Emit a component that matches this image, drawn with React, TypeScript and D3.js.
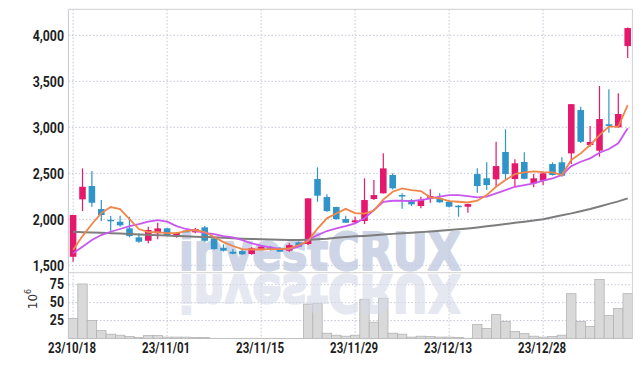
import React from 'react';
import * as d3 from 'd3';

// trading days, 2023/10/18 .. 2024/01/12
const dates = [
  '23/10/18','23/10/19','23/10/20','23/10/23','23/10/24','23/10/25','23/10/26','23/10/27','23/10/30','23/10/31',
  '23/11/01','23/11/02','23/11/03','23/11/06','23/11/07','23/11/08','23/11/09','23/11/10','23/11/13','23/11/14',
  '23/11/15','23/11/16','23/11/17','23/11/20','23/11/21','23/11/22','23/11/23','23/11/24','23/11/27','23/11/28',
  '23/11/29','23/11/30','23/12/01','23/12/04','23/12/05','23/12/06','23/12/07','23/12/08','23/12/11','23/12/12',
  '23/12/13','23/12/14','23/12/15','23/12/18','23/12/19','23/12/20','23/12/21','23/12/22','23/12/26','23/12/27',
  '23/12/28','24/01/02','24/01/03','24/01/04','24/01/05','24/01/08','24/01/09','24/01/10','24/01/11','24/01/12',
];
const tickLabels = ['23/10/18', '23/11/01', '23/11/15', '23/11/29', '23/12/13', '23/12/28'];

const open = [1593,2217,2362,2112,1995,1974,1902,1804,1767,1848,1902,1811,1875,1859,1913,1793,1691,1648,1655,1623,
  1680,1696,1691,1659,1750,1732,2438,2242,2134,2003,1967,1982,2221,2283,2482,2264,2210,2145,2235,2228,
  2191,2148,2137,2492,2446,2435,2732,2438,2623,2391,2420,2601,2620,2717,3188,2808,2746,3033,3000,3883];
const high = [2050,2554,2525,2210,2036,2039,2028,1848,1920,1963,1905,1860,1880,1905,1927,1800,1728,1677,1665,1700,
  1720,1710,1700,1739,1760,2230,2565,2272,2137,2039,2028,2446,2427,2717,2500,2283,2221,2246,2326,2283,
  2210,2155,2170,2554,2620,2843,2978,2652,2728,2492,2505,2620,2674,3255,3224,3014,3449,3413,3370,4085];
const low = [1540,2090,2137,1982,1865,1920,1804,1746,1739,1783,1815,1800,1860,1850,1760,1670,1650,1620,1615,1615,
  1667,1660,1645,1648,1700,1720,2191,2083,1995,1960,1960,1949,2210,2280,2325,2116,2145,2120,2180,2180,
  2130,2028,2072,2289,2318,2354,2438,2348,2435,2348,2373,2475,2463,2601,2830,2790,2681,2941,2995,3753];
const close = [2047,2354,2180,2047,1988,1935,1818,1757,1884,1902,1822,1854,1865,1895,1767,1677,1659,1626,1620,1685,
  1702,1680,1648,1720,1702,2228,2257,2090,2003,1963,1989,2210,2264,2554,2337,2260,2163,2210,2253,2185,
  2137,2142,2166,2362,2373,2579,2492,2609,2441,2446,2500,2482,2474,3252,2843,2841,3090,3014,3145,4079];
// millions of shares
const volume = [28,76,25,11,6,4.6,2.8,1.4,4.2,4.2,1.9,1.9,1.9,1.5,1.5,0.2,0.2,0.2,0.2,0.2,
  0.2,0.2,0.2,0.2,0.2,48,49,7.4,4.6,3.2,4.6,54.6,22.7,56,7.4,6,1.9,3.2,2.8,1.9,
  1.9,1.5,0.3,19.4,13.9,33.3,23.6,9.7,6.9,3.2,1.9,2.8,4.6,62.5,23.6,16.7,82.4,31.9,41.7,62.5];

const ma5 = [1666,1818,1949,2068,2134,2112,2003,1895,1862,1862,1851,1851,1873,1884,1862,1808,1753,1710,1677,1672,
  1672,1677,1677,1683,1721,1764,1900,2011,2063,2114,2068,2063,2096,2214,2300,2337,2318,2308,2239,2228,
  2199,2191,2183,2202,2264,2354,2427,2492,2511,2522,2514,2511,2482,2645,2717,2808,2916,3007,3007,3242];
const ma10 = [1630,1702,1775,1829,1865,1895,1927,1949,1974,1992,1974,1927,1895,1876,1854,1840,1818,1804,1775,1739,
  1713,1696,1680,1677,1702,1775,1829,1873,1902,1927,1957,2011,2101,2191,2202,2202,2199,2210,2228,2246,
  2264,2264,2253,2239,2246,2283,2318,2354,2373,2391,2420,2446,2482,2579,2626,2663,2724,2764,2826,2989];
const ma60 = [1865,1861,1857,1853,1849,1845,1841,1836,1832,1828,1824,1820,1816,1812,1808,1804,1799,1795,1790,1787,
  1784,1781,1778,1776,1775,1779,1784,1790,1800,1808,1815,1820,1826,1834,1842,1848,1854,1861,1868,1876,
  1884,1892,1901,1912,1925,1937,1950,1962,1975,1987,2000,2022,2045,2065,2088,2112,2140,2168,2195,2228];

const priceTicks = [1500, 2000, 2500, 3000, 3500, 4000];
const volumeTicks = [25, 50, 75];

const W = 642;
const H = 366;
const left = 68.4;
const right = 632.4;
const top = 9.3;
const split = 272.7;
const bottom = 338.5;

const UP = '#e5196c';
const DOWN = '#2f95c9';
const GRID = '#c4c6d6';
const tickFont = 'Roboto, "DejaVu Sans", sans-serif';

export default function App() {
  const x = d3.scaleBand<string>().domain(dates).range([left, right]).padding(0);
  const bw = x.bandwidth();
  const cx = (i: number) => (x(dates[i]) as number) + bw / 2;
  const y = d3.scaleLinear().domain([1420, 4283]).range([split, top]);
  const yv = d3.scaleLinear().domain([0, 91.7]).range([bottom, split]);

  const lineOf = (vals: number[]) =>
    d3.line<number>().x((_, i) => cx(i)).y((v) => y(v))(vals) || '';

  const bodyW = bw * 0.7;

  return (
    <svg width={W} height={H} style={{ position: 'absolute', left: 0, top: 0, background: '#fff' }}>
      {/* grid */}
      {priceTicks.map((t) => (
        <line key={'pg' + t} x1={left} x2={right} y1={y(t)} y2={y(t)} stroke={GRID} strokeDasharray="1.5,2" />
      ))}
      {volumeTicks.map((t) => (
        <line key={'vg' + t} x1={left} x2={right} y1={yv(t)} y2={yv(t)} stroke={GRID} strokeDasharray="1.5,2" />
      ))}
      {tickLabels.map((d) => (
        <line key={'xg' + d} x1={cx(dates.indexOf(d))} x2={cx(dates.indexOf(d))} y1={top} y2={bottom}
          stroke={GRID} strokeDasharray="1.5,2" />
      ))}

      {/* volume */}
      {volume.map((v, i) => (
        <rect key={'v' + i} x={x(dates[i])} y={yv(v)} width={bw} height={bottom - yv(v)}
          fill="#d9d9d9" stroke="#b4b4b4" strokeWidth={0.8} />
      ))}

      {/* watermark */}
      <g fontFamily='"DejaVu Sans", sans-serif' fontWeight="bold" fontSize={52} strokeLinejoin="round">
        <text x={179} y={270} textLength={282} lengthAdjust="spacingAndGlyphs"
          fill="#c3cbe0" stroke="#c3cbe0" strokeWidth={2.2} opacity={0.8}>investCRUX</text>
        <text x={179} y={-275} transform="scale(1,-1)" textLength={282} lengthAdjust="spacingAndGlyphs"
          fill="#d6d9e8" stroke="#d6d9e8" strokeWidth={2.2} opacity={0.6}>investCRUX</text>
      </g>

      {/* candles */}
      {dates.map((d, i) => {
        const up = close[i] >= open[i];
        const c = up ? UP : DOWN;
        const yTop = y(Math.max(open[i], close[i]));
        const yBot = y(Math.min(open[i], close[i]));
        return (
          <g key={'c' + i}>
            <line x1={cx(i)} x2={cx(i)} y1={y(high[i])} y2={y(low[i])} stroke={c} strokeWidth={1.2} />
            <rect x={cx(i) - bodyW / 2} y={yTop} width={bodyW} height={Math.max(1.5, yBot - yTop)} fill={c} />
          </g>
        );
      })}

      {/* moving averages */}
      <path d={lineOf(ma60)} fill="none" stroke="#7d7d7d" strokeWidth={2} />
      <path d={lineOf(ma10)} fill="none" stroke="#c957ef" strokeWidth={1.8} />
      <path d={lineOf(ma5)} fill="none" stroke="#f0864a" strokeWidth={1.8} />

      {/* frame */}
      <line x1={left} x2={right} y1={top} y2={top} stroke="#d0d0d0" />
      <line x1={left} x2={left} y1={top} y2={bottom} stroke="#c8c8d0" />
      <line x1={right} x2={right} y1={top} y2={bottom} stroke="#d0d0d0" />
      <line x1={left} x2={right} y1={split} y2={split} stroke="#d0d0d0" />

      {/* axis labels */}
      <g fontFamily={tickFont} fontWeight={700} fontSize={14} fill="#1e1e1e">
        {priceTicks.map((t) => (
          <text key={'pl' + t} transform={`translate(64,${y(t) + 1.5}) scale(0.88,1)`} textAnchor="end"
            dominantBaseline="middle">
            {d3.format(',')(t)}
          </text>
        ))}
        {volumeTicks.map((t) => (
          <text key={'vl' + t} transform={`translate(64,${yv(t) + 1}) scale(0.88,1)`} textAnchor="end"
            dominantBaseline="middle">{t}</text>
        ))}
        {tickLabels.map((d) => (
          <text key={'xl' + d} x={cx(dates.indexOf(d)) - 1} y={349} textAnchor="middle" dominantBaseline="middle"
            textLength={48} lengthAdjust="spacingAndGlyphs">{d}</text>
        ))}
      </g>
      <text x={0} y={0} transform="translate(33,299) rotate(-90)" textAnchor="middle" dominantBaseline="middle"
        fontFamily='"DejaVu Sans", sans-serif' fontSize={12} fill="#333">
        10<tspan dy={-5} fontSize={8}>6</tspan>
      </text>
    </svg>
  );
}
